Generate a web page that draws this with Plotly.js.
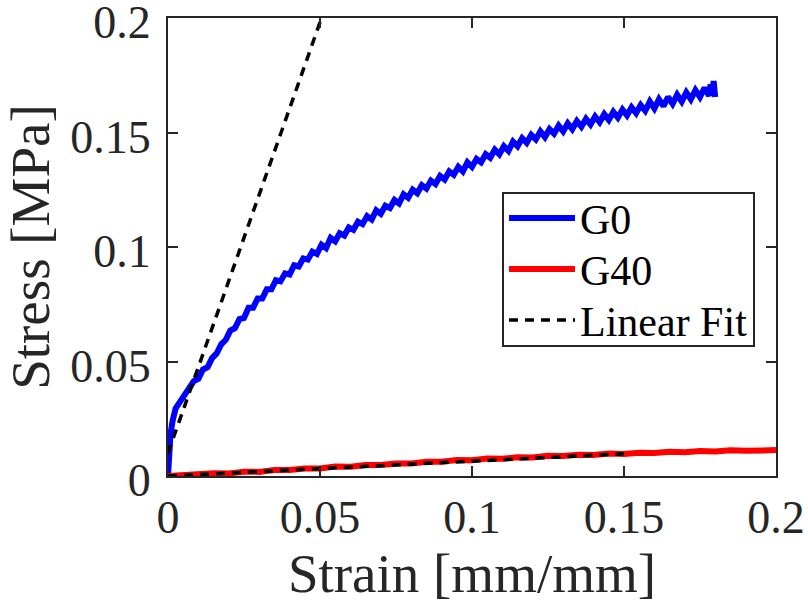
<!DOCTYPE html>
<html>
<head>
<meta charset="utf-8">
<script src="https://cdn.plot.ly/plotly-3.0.1.min.js"></script>
<style>html,body{margin:0;padding:0;background:#fff;}#chart{width:808px;height:613px;}</style>
</head>
<body>
<div id="chart"></div>
<script>
var g0Strain = [0, 0.0003, 0.0008, 0.0015, 0.0025, 0.004, 0.0055, 0.007, 0.0085, 0.01, 0.0115, 0.013, 0.0145, 0.016, 0.0175, 0.019, 0.0205, 0.022, 0.0235, 0.025, 0.0265, 0.028, 0.0295, 0.031, 0.0325, 0.034, 0.0355, 0.037, 0.0385, 0.04, 0.0415, 0.043, 0.0445, 0.046, 0.0475, 0.049, 0.0505, 0.052, 0.0535, 0.055, 0.0565, 0.058, 0.0595, 0.061, 0.0625, 0.064, 0.0655, 0.067, 0.0685, 0.07, 0.0715, 0.073, 0.0745, 0.076, 0.0775, 0.079, 0.0805, 0.082, 0.0835, 0.085, 0.0865, 0.088, 0.0895, 0.091, 0.0925, 0.094, 0.0955, 0.097, 0.0985, 0.1, 0.1015, 0.103, 0.1045, 0.106, 0.1075, 0.109, 0.1105, 0.112, 0.1135, 0.115, 0.1165, 0.118, 0.1195, 0.121, 0.1225, 0.124, 0.1255, 0.127, 0.1285, 0.13, 0.1315, 0.133, 0.1345, 0.136, 0.1375, 0.139, 0.1405, 0.142, 0.1435, 0.145, 0.1465, 0.148, 0.1495, 0.151, 0.1525, 0.154, 0.1555, 0.157, 0.1585, 0.16, 0.1615, 0.163, 0.1645, 0.166, 0.1675, 0.169, 0.1705, 0.172, 0.1735, 0.175, 0.1765, 0.178, 0.1785, 0.179, 0.1795, 0.18];
var g0Stress = [0, 0.010, 0.018, 0.024, 0.0295, 0.0325, 0.0355, 0.0375, 0.0415, 0.0425, 0.0465, 0.0475, 0.0515, 0.0535, 0.0575, 0.0595, 0.0635, 0.0645, 0.0685, 0.0690, 0.0735, 0.0735, 0.0775, 0.0775, 0.0815, 0.0815, 0.0855, 0.0850, 0.0885, 0.0880, 0.0920, 0.0915, 0.0950, 0.0945, 0.0980, 0.0970, 0.1010, 0.0995, 0.1040, 0.1025, 0.1060, 0.1050, 0.1085, 0.1075, 0.1110, 0.1100, 0.1135, 0.1120, 0.1160, 0.1145, 0.1180, 0.1170, 0.1205, 0.1190, 0.1230, 0.1215, 0.1250, 0.1235, 0.1270, 0.1255, 0.1290, 0.1275, 0.1310, 0.1295, 0.1330, 0.1315, 0.1350, 0.1330, 0.1370, 0.1350, 0.1385, 0.1370, 0.1405, 0.1390, 0.1425, 0.1405, 0.1440, 0.1420, 0.1460, 0.1440, 0.1475, 0.1455, 0.1490, 0.1470, 0.1505, 0.1480, 0.1515, 0.1495, 0.1530, 0.1505, 0.1540, 0.1515, 0.1550, 0.1525, 0.1560, 0.1535, 0.1570, 0.1545, 0.1580, 0.1555, 0.1590, 0.1565, 0.1600, 0.1575, 0.1610, 0.1585, 0.1620, 0.1595, 0.1635, 0.1605, 0.1645, 0.1615, 0.1655, 0.1625, 0.1665, 0.1635, 0.1675, 0.1645, 0.1685, 0.1655, 0.1695, 0.1660, 0.1710, 0.1665, 0.1725, 0.1655, 0.1735];

var g40Strain = [0, 0.005, 0.01, 0.015, 0.02, 0.025, 0.03, 0.035, 0.04, 0.045, 0.05, 0.055, 0.06, 0.065, 0.07, 0.075, 0.08, 0.085, 0.09, 0.095, 0.1, 0.105, 0.11, 0.115, 0.12, 0.125, 0.13, 0.135, 0.14, 0.145, 0.15, 0.155, 0.16, 0.165, 0.17, 0.175, 0.18, 0.185, 0.19, 0.195, 0.2];
var g40Stress = [0, 0.0005, 0.0004, 0.0012, 0.0011, 0.0019, 0.0018, 0.0026, 0.0026, 0.0033, 0.0033, 0.0041, 0.0040, 0.0048, 0.0048, 0.0055, 0.0055, 0.0062, 0.0062, 0.0070, 0.0069, 0.0076, 0.0075, 0.0082, 0.0081, 0.0088, 0.0087, 0.0093, 0.0092, 0.0098, 0.0096, 0.0102, 0.0100, 0.0106, 0.0104, 0.0109, 0.0107, 0.0112, 0.0110, 0.0114, 0.0113];

var fitG0Strain = [0, 0.0505];
var fitG0Stress = [0.010, 0.200];
var fitG40Strain = [0, 0.15];
var fitG40Stress = [0, 0.0097];

var seriesNames = ['G0', 'G40', 'Linear Fit'];
var tickVals = [0, 0.05, 0.1, 0.15, 0.2];
var tickText = ['0', '0.05', '0.1', '0.15', '0.2'];

var FONT = '"Liberation Serif", "Times New Roman", Times, serif';
var INK = '#262626';
var dashStyle = '9px,7px';

var traces = [
  {x: g0Strain, y: g0Stress, type: 'scatter', mode: 'lines', name: seriesNames[0],
   line: {color: '#0000ff', width: 6}},
  {x: g40Strain, y: g40Stress, type: 'scatter', mode: 'lines', name: seriesNames[1],
   line: {color: '#ff0000', width: 6}},
  {x: fitG0Strain, y: fitG0Stress, type: 'scatter', mode: 'lines', name: seriesNames[2],
   legendgroup: 'fit', line: {color: '#000000', width: 3.5, dash: dashStyle}},
  {x: fitG40Strain, y: fitG40Stress, type: 'scatter', mode: 'lines', name: seriesNames[2],
   legendgroup: 'fit', showlegend: false, line: {color: '#000000', width: 3.5, dash: dashStyle}}
];

var axisCommon = {
  tickmode: 'array', tickvals: tickVals, ticktext: tickText,
  showgrid: false, zeroline: false, showline: true, mirror: 'ticks',
  linecolor: INK, linewidth: 2, ticks: 'inside', ticklen: 10, tickwidth: 2, tickcolor: INK,
  ticklabeloverflow: 'allow',
  tickfont: {family: FONT, size: 46, color: INK}
};

var layout = {
  width: 808, height: 613,
  margin: {l: 168, r: 32, t: 18, b: 137},
  paper_bgcolor: '#ffffff', plot_bgcolor: '#ffffff',
  showlegend: true,
  font: {family: FONT},
  xaxis: Object.assign({}, axisCommon, {
    range: [0, 0.20001],
    title: {text: 'Strain [mm/mm]', font: {family: FONT, size: 55, color: INK}, standoff: 6}
  }),
  yaxis: Object.assign({}, axisCommon, {
    range: [0, 0.20001],
    ticklabelstandoff: 6, ticklabelshift: 4,
    title: {text: 'Stress [MPa]', font: {family: FONT, size: 55, color: INK}, standoff: 6}
  }),
  legend: {
    x: 0.9655, y: 0.62, xanchor: 'right', yanchor: 'top',
    bgcolor: '#ffffff', bordercolor: INK, borderwidth: 2,
    font: {family: FONT, size: 42, color: '#000000'},
    itemwidth: 66, tracegroupgap: 0
  }
};

Plotly.newPlot('chart', traces, layout, {staticPlot: true, displayModeBar: false}).then(function (gd) {
  // match the reference legend's row spacing and box height
  var leg = gd.querySelector('.legend');
  if (!leg) return;
  var items = leg.querySelectorAll('.traces');
  var firstRow = 26, rowGap = 51, boxHeight = 153;
  items.forEach(function (el, i) {
    var tr = el.getAttribute('transform') || '';
    var m = /translate\(\s*([-\d.e]+)[ ,]+([-\d.e]+)\s*\)/.exec(tr);
    var tx = m ? parseFloat(m[1]) : 0;
    el.setAttribute('transform', 'translate(' + tx + ',' + (firstRow + i * rowGap) + ')');
  });
  var bg = leg.querySelector('rect.bg');
  if (bg) bg.setAttribute('height', boxHeight);
});
</script>
</body>
</html>
